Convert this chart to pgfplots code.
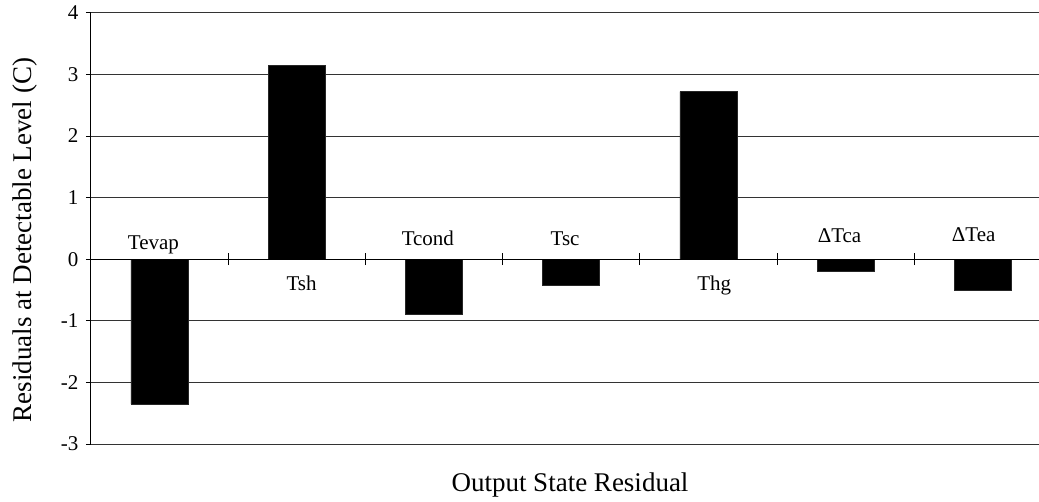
\documentclass[border=0pt]{standalone}
\usepackage{pgfplots}
\pgfplotsset{compat=1.18}
\usepackage{fontspec}
\setmainfont{Liberation Serif}

\pgfplotstableread{
x y
0 -2.35
1 3.14
2 -0.89
3 -0.43
4 2.72
5 -0.19
6 -0.51
}\residuals

\begin{document}
\begin{tikzpicture}
\begin{axis}[
  at={(0,0)}, anchor=south west,
  scale only axis, width=948.2pt, height=431.3pt,
  xmin=-0.5, xmax=6.41, ymin=-3, ymax=4,
  axis y line=left, axis x line=none,
  axis line style={-, black, line width=1.4pt},
  xtick=\empty,
  ytick={-3,-2,...,4},
  ytick align=outside, major tick length=5pt,
  ytick style={black, line width=0.8pt},
  yticklabel style={font=\fontsize{21}{24}\selectfont, xshift=-4pt},
  /pgf/number format/assume math mode=true,
  ymajorgrids, major grid style={black!80, line width=0.8pt},
  clip=false,
]
\addplot[ybar, bar width=57pt, bar shift=0pt, fill=black, draw=black!85, line width=0.4pt] table[x=x, y=y] {\residuals};
\draw[black, line width=0.8pt] (axis cs:-0.5,0) -- (axis cs:6.41,0);
\pgfplotsinvokeforeach{0.5,1.5,2.5,3.5,4.5,5.5}{
  \draw[black, line width=0.8pt] ([yshift=-6pt]axis cs:#1,0) -- ([yshift=6pt]axis cs:#1,0);
}
\tikzset{catlab/.style={anchor=base, inner sep=0pt, font=\fontsize{21}{24}\selectfont}}
\node[catlab, xshift=-6pt, yshift=9.5pt] at (axis cs:0,0) {Tevap};
\node[catlab, xshift=5pt, yshift=-31.7pt] at (axis cs:1,0) {Tsh};
\node[catlab, xshift=-6pt, yshift=14pt] at (axis cs:2,0) {Tcond};
\node[catlab, xshift=-6pt, yshift=14pt] at (axis cs:3,0) {Tsc};
\node[catlab, xshift=6pt, yshift=-31.7pt] at (axis cs:4,0) {Thg};
\node[catlab, xshift=-6pt, yshift=16.5pt] at (axis cs:5,0) {ΔTca};
\node[catlab, xshift=-9pt, yshift=17.5pt] at (axis cs:6,0) {ΔTea};
\end{axis}
\node[anchor=base, inner sep=0pt, font=\fontsize{27}{30}\selectfont] at (479.2pt,-47pt) {Output State Residual};
\node[anchor=base, inner sep=0pt, rotate=90, font=\fontsize{27}{30}\selectfont] at (-58.8pt,204pt) {Residuals at Detectable Level (C)};
\pgfresetboundingbox
\useasboundingbox (-90.8pt,-57pt) rectangle (948.2pt,444pt);
\end{tikzpicture}
\end{document}
